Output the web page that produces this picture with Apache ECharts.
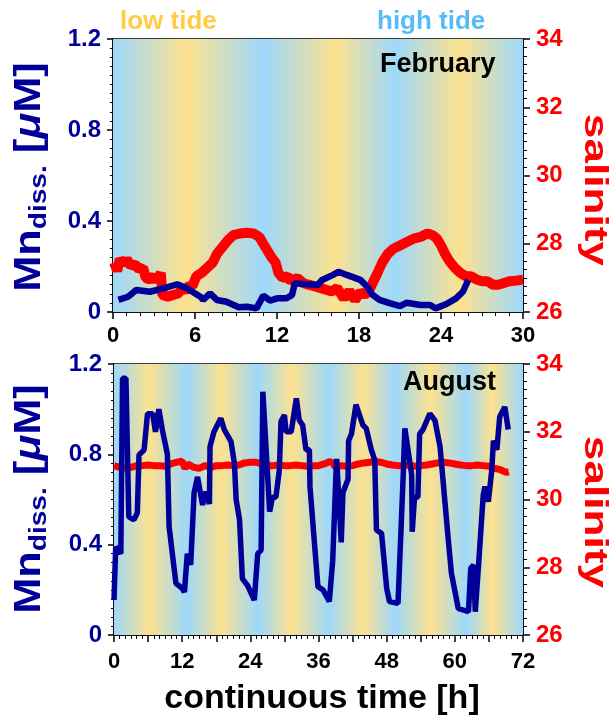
<!DOCTYPE html>
<html>
<head>
<meta charset="utf-8">
<script src="https://cdn.jsdelivr.net/npm/echarts@6/dist/echarts.min.js"></script>
<style>html,body{margin:0;padding:0;background:#fff}#c{width:613px;height:719px}</style>
</head>
<body>
<div id="c"></div>
<script>
// ---------- DATA ----------
// February: dissolved Mn [µM] (hour, value)
const febMn = [[0.4,0.053],[1.1,0.067],[1.7,0.097],[2.7,0.089],[3.7,0.104],[4.7,0.122],[5.4,0.104],[6.4,0.067],[6.6,0.053],[7.1,0.082],[7.6,0.053],[8.3,0.045],[9.2,0.021],[9.8,0.023],[10.5,0.016],[11.0,0.072],[11.5,0.05],[12.0,0.06],[12.7,0.06],[13.1,0.075],[13.3,0.126],[14.2,0.122],[15.0,0.119],[15.3,0.141],[16.1,0.163],[16.5,0.177],[17.1,0.163],[18.1,0.141],[18.6,0.111],[19.0,0.075],[19.5,0.053],[20.3,0.038],[21.0,0.026],[21.5,0.041],[22.5,0.031],[23.2,0.031],[23.6,0.016],[24.4,0.035],[25.1,0.06],[25.6,0.089],[26.0,0.141]];
// February: salinity (hour, value)
const febSal = [[0.1,27.45],[0.3,27.2],[0.5,27.55],[0.8,27.4],[1.0,27.55],[1.3,27.35],[1.6,27.4],[1.9,27.25],[2.2,27.3],[2.4,27.0],[2.7,26.95],[3.0,27.05],[3.2,26.9],[3.5,27.15],[3.6,26.5],[4.0,26.45],[4.4,26.5],[4.8,26.55],[5.1,26.7],[5.3,26.6],[5.6,26.8],[5.8,26.75],[6.1,27.05],[6.5,27.15],[6.9,27.3],[7.3,27.45],[7.6,27.7],[8.0,27.9],[8.4,28.1],[8.8,28.25],[9.3,28.3],[9.8,28.32],[10.3,28.3],[10.7,28.2],[11.0,28.0],[11.3,27.8],[11.6,27.6],[11.9,27.45],[12.1,27.15],[12.4,27.0],[12.8,27.05],[13.0,26.9],[13.5,27.0],[13.9,26.85],[14.3,26.8],[14.8,26.75],[15.2,26.7],[15.6,26.65],[16.0,26.6],[16.4,26.7],[16.9,26.4],[17.3,26.62],[17.7,26.35],[18.1,26.58],[18.4,26.5],[18.7,26.6],[19.0,26.85],[19.3,27.1],[19.7,27.45],[20.1,27.7],[20.5,27.85],[21.0,27.95],[21.5,28.05],[22.0,28.15],[22.5,28.2],[23.0,28.3],[23.4,28.25],[23.7,28.15],[24.0,27.95],[24.3,27.7],[24.6,27.5],[25.0,27.3],[25.4,27.15],[25.8,27.05],[26.2,27.05],[26.6,26.95],[27.0,26.9],[27.4,26.9],[27.8,26.8],[28.2,26.8],[28.6,26.85],[29.0,26.9],[29.5,26.92],[30.0,26.95]];
// August: dissolved Mn [µM]
const augMn = [[0.0,0.155],[0.3,0.39],[1.2,0.36],[1.5,1.137],[2.1,1.137],[2.6,0.524],[3.5,0.51],[4.1,0.54],[4.4,0.797],[5.3,0.82],[5.9,0.98],[6.8,0.98],[7.3,0.90],[7.9,1.0],[8.5,0.91],[9.4,0.80],[9.7,0.48],[10.9,0.229],[12.0,0.207],[12.4,0.19],[12.9,0.36],[13.5,0.31],[14.1,0.63],[14.7,0.70],[15.6,0.576],[16.2,0.635],[16.8,0.58],[16.9,0.834],[17.6,0.90],[18.8,0.96],[19.4,0.91],[20.6,0.856],[21.2,0.76],[21.5,0.60],[22.1,0.51],[22.6,0.25],[23.5,0.22],[24.7,0.155],[25.3,0.36],[25.9,0.376],[26.2,1.077],[27.4,0.546],[27.9,0.61],[28.5,0.61],[29.1,0.73],[29.4,0.945],[30.0,0.974],[30.3,0.90],[31.2,0.90],[32.1,1.048],[32.6,0.952],[33.2,0.93],[33.8,0.82],[34.4,0.82],[34.5,0.657],[35.9,0.214],[36.8,0.20],[37.9,0.148],[38.5,0.33],[39.1,0.73],[39.2,0.78],[40.0,0.41],[40.3,0.63],[41.2,0.69],[41.3,0.86],[41.8,0.89],[42.6,1.02],[43.8,0.93],[44.4,0.915],[45.3,0.82],[45.9,0.775],[46.2,0.465],[47.1,0.45],[48.0,0.207],[48.5,0.148],[50.0,0.14],[50.9,0.70],[51.2,0.915],[52.4,0.71],[52.5,0.457],[52.9,0.61],[53.5,0.61],[53.8,0.89],[54.4,0.91],[55.6,0.98],[56.5,0.95],[57.4,0.834],[58.8,0.435],[59.4,0.273],[60.6,0.118],[62.4,0.103],[62.8,0.295],[63.3,0.31],[63.6,0.103],[64.2,0.32],[65.0,0.62],[65.3,0.657],[65.9,0.59],[66.5,0.73],[66.8,0.86],[67.4,0.82],[67.9,0.966],[68.8,1.01],[69.4,0.91]];
// August: salinity
const augSal = [[0,31.0],[1,30.95],[2,30.93],[3,30.95],[4,31.0],[5,31.0],[6,31.02],[7,31.0],[8,31.0],[9,30.98],[10,31.05],[11,31.1],[12,31.13],[12.5,30.92],[13,31.05],[14,30.95],[15,30.92],[16,31.0],[17,30.95],[18,31.0],[19,31.0],[20,31.02],[21,31.0],[22,31.02],[23,31.08],[24,31.1],[25,31.1],[26,31.05],[27,31.0],[28,31.0],[29,31.02],[30,31.0],[31,31.0],[32,31.02],[33,31.0],[34,30.98],[35,31.0],[36,31.0],[37,31.05],[38,31.12],[38.5,31.08],[39,30.95],[40,31.0],[41,30.98],[42,31.0],[43,31.05],[44,31.08],[45,31.1],[46,31.12],[47,31.1],[48,31.05],[49,31.02],[50,31.0],[51,31.0],[52,31.02],[53,30.98],[54,31.0],[55,31.02],[56,31.05],[57,31.08],[58,31.1],[59,31.08],[60,31.05],[61,31.02],[62,31.0],[63,31.0],[64,31.02],[65,31.0],[66,30.98],[67,30.92],[68,30.88],[69,30.8],[69.5,30.82]];
// Tide phases (hour, 'H' = high tide, 'L' = low tide)
const febTide = [[0,'H'],[5.4,'L'],[11.0,'H'],[16.3,'L'],[20.6,'H'],[25.4,'L'],[30,'H']];
const augTide = [[0,'H'],[6.2,'L'],[12.9,'H'],[18.9,'L'],[25.3,'H'],[31.3,'L'],[37.9,'H'],[43.8,'L'],[49.5,'H'],[55.8,'L'],[62.0,'H'],[66.6,'L'],[72,'H']];
// Axis ranges [min, max, interval]
const febX = [0, 30, 6];
const augX = [0, 72, 6];
const mnY = [0, 1.2, 0.4];
const salY = [26, 34, 2];

// ---------- CHART ----------
const FONT = '"Liberation Sans", Arial, Helvetica, sans-serif';
const NAVY = '#000099';
const RED = '#ff0000';
const HIGH = '#9dd8fb';
const LOW = '#fde28f';

function tideArea(tide, r) {
  const span = r[1] - r[0];
  const stops = tide.map(p => ({ offset: (p[0] - r[0]) / span, color: p[1] === 'H' ? HIGH : LOW }));
  return [[
    { xAxis: r[0], itemStyle: { color: new echarts.graphic.LinearGradient(0, 0, 1, 0, stops), opacity: 1, borderWidth: 0 } },
    { xAxis: r[1] }
  ]];
}

function xAxisDef(gi, r, every) {
  return {
    gridIndex: gi, type: 'value', min: r[0], max: r[1], interval: r[2],
    axisLine: { onZero: false, lineStyle: { color: '#000', width: 1.5 } },
    axisTick: { length: 7, lineStyle: { color: '#000', width: 1.5 } },
    minorTick: { show: true, splitNumber: 6, length: 4, lineStyle: { color: '#000', width: 1 } },
    splitLine: { show: false },
    axisLabel: {
      color: '#000', fontWeight: 'bold', fontSize: 22, fontFamily: FONT, margin: gi === 0 ? 13 : 16,
      formatter: v => (v % every === 0 ? String(v) : '')
    }
  };
}

function mnAxis(gi) {
  return {
    gridIndex: gi, type: 'value', position: 'left', min: mnY[0], max: mnY[1], interval: mnY[2],
    axisLine: { show: true, onZero: false, lineStyle: { color: '#000', width: 1.5 } },
    axisTick: { length: 6, lineStyle: { color: '#000', width: 1.5 } },
    minorTick: { show: true, splitNumber: 10, length: 3, lineStyle: { color: '#000', width: 1 } },
    splitLine: { show: false },
    axisLabel: { color: NAVY, fontWeight: 'bold', fontSize: 24, fontFamily: FONT, margin: 12, formatter: v => String(+v.toFixed(1)) }
  };
}
function salAxis(gi) {
  return {
    gridIndex: gi, type: 'value', position: 'right', min: salY[0], max: salY[1], interval: salY[2],
    axisLine: { show: true, onZero: false, lineStyle: { color: '#000', width: 1.5 } },
    axisTick: { length: 7, lineStyle: { color: '#000', width: 1.5 } },
    minorTick: { show: true, splitNumber: 8, length: 4, lineStyle: { color: '#000', width: 1 } },
    splitLine: { show: false },
    axisLabel: { color: RED, fontWeight: 'bold', fontSize: 24, fontFamily: FONT, margin: 13 }
  };
}

const mnRich = {
  a: { fontSize: 37, fontWeight: 'bold', fill: NAVY, fontFamily: FONT, lineHeight: 38, verticalAlign: 'top' },
  b: { fontSize: 24, fontWeight: 'bold', fill: NAVY, fontFamily: FONT, lineHeight: 40, verticalAlign: 'bottom' },
  c: { fontSize: 37, fontWeight: 'bold', fontStyle: 'italic', fill: NAVY, fontFamily: FONT, lineHeight: 38, verticalAlign: 'top' }
};
function mnTitle(cy) {
  return { type: 'text', x: 31, y: cy, rotation: Math.PI / 2, scaleX: 1.17, z: 10,
    style: { text: '{a|Mn}{b|diss.}{a| [}{c|μ}{a|M]}', rich: mnRich, align: 'center', verticalAlign: 'middle' } };
}
function salTitle(cy) {
  return { type: 'text', x: 594, y: cy, rotation: -Math.PI / 2, scaleX: 1.3, z: 10,
    style: { text: 'salinity', fill: RED, font: 'bold 34px ' + FONT, align: 'center', verticalAlign: 'middle' } };
}

const chart = echarts.init(document.getElementById('c'), null, { renderer: 'canvas' });
chart.setOption({
  animation: false,
  backgroundColor: '#fff',
  grid: [
    { left: 113, top: 39, width: 410, height: 273, show: true, borderColor: '#000', borderWidth: 1.5, backgroundColor: 'transparent', containLabel: false, outerBoundsMode: 'none' },
    { left: 114, top: 364, width: 409, height: 271, show: true, borderColor: '#000', borderWidth: 1.5, backgroundColor: 'transparent', containLabel: false, outerBoundsMode: 'none' }
  ],
  xAxis: [xAxisDef(0, febX, 6), xAxisDef(1, augX, 12)],
  yAxis: [mnAxis(0), salAxis(0), mnAxis(1), salAxis(1)],
  graphic: [
    { type: 'text', left: 120, top: 9, style: { text: 'low tide', fill: '#ffcc44', font: 'bold 26px ' + FONT } },
    { type: 'text', left: 377, top: 9, style: { text: 'high tide', fill: '#55bcf8', font: 'bold 26px ' + FONT } },
    { type: 'text', left: 380, top: 51, z: 10, style: { text: 'February', fill: '#000', font: 'bold 27px ' + FONT } },
    { type: 'text', left: 403, top: 369, z: 10, style: { text: 'August', fill: '#000', font: 'bold 27px ' + FONT } },
    { type: 'text', x: 322, y: 699, style: { text: 'continuous time [h]', fill: '#000', font: 'bold 34px ' + FONT, align: 'center', verticalAlign: 'middle' } },
    mnTitle(177), mnTitle(499), salTitle(190), salTitle(512)
  ],
  series: [
    { type: 'line', xAxisIndex: 0, yAxisIndex: 0, data: [], z: 0, silent: true, markArea: { silent: true, data: tideArea(febTide, febX) } },
    { type: 'line', xAxisIndex: 1, yAxisIndex: 2, data: [], z: 0, silent: true, markArea: { silent: true, data: tideArea(augTide, augX) } },
    { type: 'line', xAxisIndex: 0, yAxisIndex: 1, data: febSal, showSymbol: false, z: 3, lineStyle: { color: RED, width: 10 } },
    { type: 'line', xAxisIndex: 0, yAxisIndex: 0, data: febMn, showSymbol: false, z: 4, lineStyle: { color: NAVY, width: 6.5 } },
    { type: 'line', xAxisIndex: 1, yAxisIndex: 3, data: augSal, showSymbol: false, z: 3, lineStyle: { color: RED, width: 7 } },
    { type: 'line', xAxisIndex: 1, yAxisIndex: 2, data: augMn, showSymbol: false, z: 4, lineStyle: { color: NAVY, width: 5.5 } }
  ]
});
</script>
</body>
</html>
